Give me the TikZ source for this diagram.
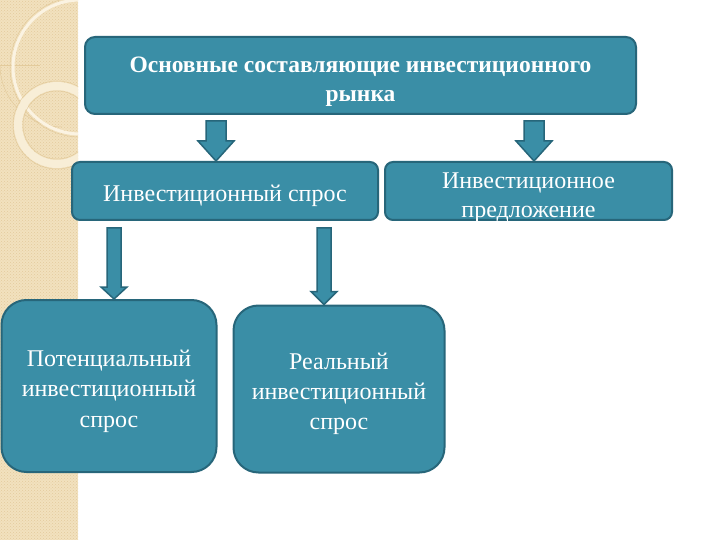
\documentclass[tikz,border=0pt]{standalone}
\usepackage{fontspec}
\setmainfont{Liberation Serif}
\usetikzlibrary{calc,patterns}
\definecolor{teal1}{HTML}{3A8EA6}
\definecolor{tealb}{HTML}{27667A}
\definecolor{beige}{HTML}{F2E1BE}
\definecolor{beiged}{HTML}{E3CB9C}
\definecolor{ringc}{HTML}{FBF3E2}
\newcommand\dnstrut[1]{\rule{0pt}{#1pt}}
\tikzset{
  box/.style={draw=tealb, line width=2pt, fill=teal1, text=white, align=center, inner sep=4pt},
  barrowsty/.style={draw=tealb, line width=1.5pt, fill=teal1, line join=miter},
}
\newcommand\barrow[7]{% x, from, to, gap, shaft half, head half, head length
  \path[barrowsty] let \p1=(#1,0 |- #2.south), \p2=(#1,0 |- #3.north) in
    (\x1-#5pt,\y1-#4pt) -- (\x1+#5pt,\y1-#4pt) -- (\x1+#5pt,\y2+#7pt) -- (\x1+#6pt,\y2+#7pt)
    -- (\x1,\y2) -- (\x1-#6pt,\y2+#7pt) -- (\x1-#5pt,\y2+#7pt) -- cycle;}
\begin{document}
\begin{tikzpicture}[x=1pt,y=-1pt]
\useasboundingbox (0,0) rectangle (720,540);
\fill[white] (0,0) rectangle (720,540);
% decorative strip
\begin{scope}
\clip (0,0) rectangle (78,540);
\fill[beige] (0,0) rectangle (78,540);
\fill[pattern=crosshatch dots, pattern color=beiged] (0,0) rectangle (78,540);
\draw[beiged, line width=0.6pt] (0,65) -- (40,65);
\draw[beiged, line width=0.5pt] (0,65) arc[start angle=180, end angle=90, radius=62];
\draw[ringc, line width=3pt] (80,67) circle (67);
\draw[beiged, line width=0.5pt] (80,67) circle (70);
\draw[ringc!70!beige, line width=8pt] (57,125) circle (39);
\draw[beiged, line width=0.5pt] (57,125) circle (34);
\draw[beiged, line width=0.5pt] (57,125) circle (44);
\end{scope}
% nodes
\node[box, rounded corners=10pt, minimum width=551pt, minimum height=77pt, font=\bfseries\fontsize{23.5}{28.5}\selectfont] (t) at (360.5,75.5)
  {\dnstrut{28}Основные составляющие инвестиционного\\рынка};
\node[box, rounded corners=8pt, minimum width=306pt, minimum height=58pt, font=\fontsize{24}{29}\selectfont] (d) at (225,191)
  {\dnstrut{27}Инвестиционный спрос};
\node[box, rounded corners=8pt, minimum width=287pt, minimum height=58pt, inner ysep=0pt, font=\fontsize{24}{29}\selectfont] (s) at (528.5,191)
  {\raisebox{-12.5pt}[0pt][0pt]{\begin{tabular}{@{}c@{}}Инвестиционное\\предложение\end{tabular}}};
\node[box, rounded corners=25pt, minimum width=215pt, minimum height=172pt, font=\fontsize{24}{30.5}\selectfont] (p) at (109,386)
  {\dnstrut{27}Потенциальный\\инвестиционный\\спрос};
\node[box, rounded corners=25pt, minimum width=211pt, minimum height=167pt, font=\fontsize{24}{30}\selectfont] (r) at (339,389)
  {\dnstrut{27}Реальный\\инвестиционный\\спрос};
% arrows
\barrow{216}{t}{d}{6}{10}{18}{20}
\barrow{534}{t}{s}{6}{10}{18}{20}
\barrow{114}{d}{p}{7}{7}{13}{12}
\barrow{324}{d}{r}{7}{7}{13}{13}
\end{tikzpicture}
\end{document}
